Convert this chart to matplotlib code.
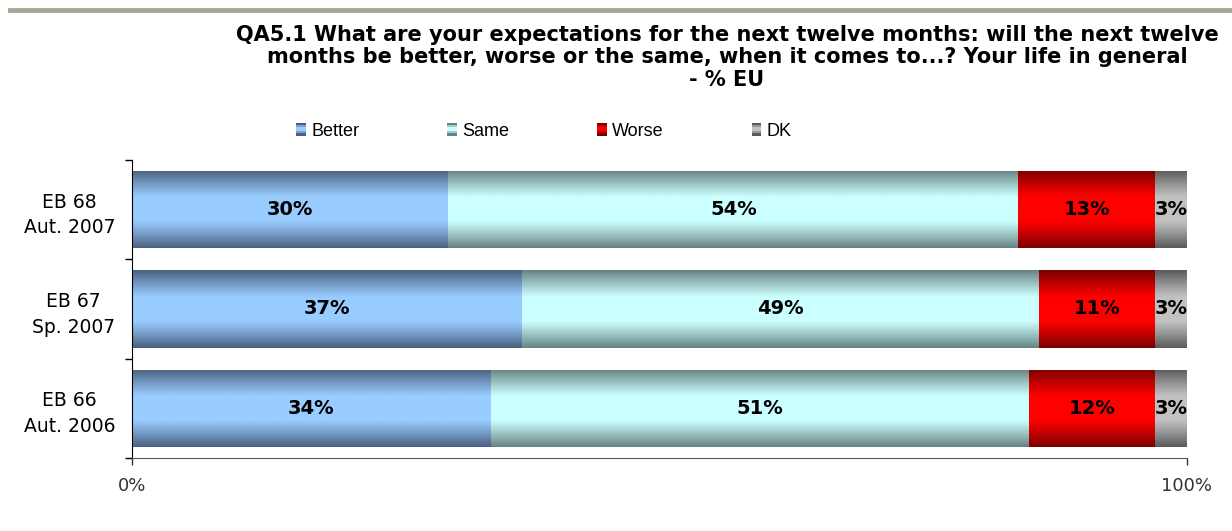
import matplotlib.pyplot as plt
import numpy as np
from matplotlib.colors import LinearSegmentedColormap
from matplotlib.legend_handler import HandlerBase
from matplotlib.patches import Rectangle
from matplotlib.lines import Line2D

TITLE = ("QA5.1 What are your expectations for the next twelve months: will the next twelve\n"
         "months be better, worse or the same, when it comes to...? Your life in general\n"
         "- % EU")
WAVES = ['EB 68\nAut. 2007', 'EB 67\nSp. 2007', 'EB 66\nAut. 2006']
SERIES = ['Better', 'Same', 'Worse', 'DK']
BETTER = [30, 37, 34]
SAME = [54, 49, 51]
WORSE = [13, 11, 12]
DK = [3, 3, 3]
VALUES = [BETTER, SAME, WORSE, DK]

# (dark edge, light middle)
GRAD = [('#4a6080', '#99ccff'),
        ('#668281', '#ccffff'),
        ('#7a0000', '#ff0000'),
        ('#5a5a5a', '#c2c2c2')]

plt.rcParams["font.family"] = "DejaVu Sans"


def profile(n=120):
    t = np.linspace(0, 1, n)
    s = np.abs(2 * t - 1)
    return np.clip((s - 0.3) / 0.7, 0, 1) ** 1.1  # 0 = light, 1 = dark


class GradHandler(HandlerBase):
    def __init__(self, dark, light):
        super().__init__()
        self.cmap = LinearSegmentedColormap.from_list('g', [light, dark])

    def create_artists(self, legend, orig, xd, yd, w, h, fontsize, trans):
        arts = []
        n = 6
        vals = profile(n)
        for k in range(n):
            r = Rectangle((xd, yd + h * k / n), w, h / n,
                          facecolor=self.cmap(vals[k]), edgecolor='none',
                          transform=trans)
            arts.append(r)
        return arts


fig = plt.figure(figsize=(12.32, 5.31), dpi=100)
ax = fig.add_axes([132 / 1232, 1 - 458 / 531, 1055 / 1232, 298 / 531])

# top rule
fig.add_artist(Line2D([10 / 1232, 1.0], [1 - 10 / 531] * 2, transform=fig.transFigure,
                      color='#a8a797', linewidth=3.5))

y = np.arange(len(WAVES))
left = np.zeros(len(WAVES))
grad = profile(200).reshape(-1, 1)
for vals, (dark, light) in zip(VALUES, GRAD):
    cmap = LinearSegmentedColormap.from_list('g', [light, dark])
    bars = ax.barh(y, vals, left=left, height=0.78, color=light, edgecolor='none')
    for b, v in zip(bars, vals):
        x0, y0 = b.get_x(), b.get_y()
        im = ax.imshow(grad, cmap=cmap, vmin=0, vmax=1, aspect='auto',
                       extent=[x0, x0 + b.get_width(), y0 + b.get_height(), y0],
                       interpolation='bilinear', zorder=2)
        im.set_clip_path(b)
        ax.text(x0 + b.get_width() / 2, y0 + b.get_height() / 2, f'{v}%',
                ha='center', va='center', fontsize=14, fontweight='bold',
                color='black', zorder=3)
    left = left + np.array(vals)

ax.set_xlim(0, 100)
ax.set_ylim(len(WAVES) - 0.5, -0.5)

ax.set_xticks([0, 100])
ax.set_xticklabels(['0%', '100%'], fontsize=13)
ax.tick_params(axis='x', direction='out', length=5, width=1, pad=9, colors='#333333')

ax.set_yticks(y)
ax.set_yticklabels(WAVES, fontsize=13.5, multialignment='center', linespacing=1.45)
ax.tick_params(axis='y', which='major', length=0, pad=12)
ax.set_yticks(np.arange(len(WAVES) + 1) - 0.5, minor=True)
ax.tick_params(axis='y', which='minor', direction='out', length=5, width=1, color='black')

for s in ['top', 'right']:
    ax.spines[s].set_visible(False)
ax.spines['left'].set_color('black')
ax.spines['bottom'].set_color('#555555')

fig.text(727 / 1232, 1 - 25 / 531, TITLE, ha='center', va='top', fontsize=15,
         fontweight='bold', multialignment='center', linespacing=1.15)

handles = [Rectangle((0, 0), 1, 1) for _ in SERIES]
hmap = {h: GradHandler(d, l) for h, (d, l) in zip(handles, GRAD)}
fig.legend(handles, SERIES, handler_map=hmap, loc='center', ncol=4,
           bbox_to_anchor=(544 / 1232, 1 - 131 / 531), frameon=False,
           prop={'family': 'Liberation Sans', 'size': 13},
           handlelength=0.55, handleheight=0.7, handletextpad=0.3,
           columnspacing=4.85, borderpad=0)

fig.savefig('out.png', dpi=100)
